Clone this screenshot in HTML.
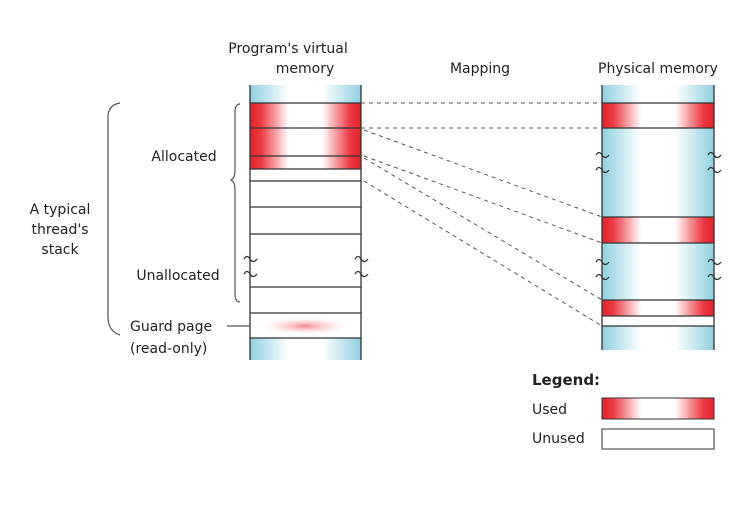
<!DOCTYPE html>
<html><head><meta charset="utf-8"><style>
body{margin:0;background:#fff;}
svg text{font-family:"DejaVu Sans","Liberation Sans",sans-serif;font-size:14px;fill:#222;}
</style></head><body>
<svg width="750" height="500" xmlns="http://www.w3.org/2000/svg">
<defs>
<linearGradient id="cy" x1="0" x2="1"><stop offset="0" stop-color="#8fd0e0"/><stop offset="0.35" stop-color="#fff"/><stop offset="0.65" stop-color="#fff"/><stop offset="1" stop-color="#8fd0e0"/></linearGradient>
<linearGradient id="rd" x1="0" x2="1"><stop offset="0" stop-color="#e8202a"/><stop offset="0.1" stop-color="#ec3a42"/><stop offset="0.35" stop-color="#fff"/><stop offset="0.65" stop-color="#fff"/><stop offset="0.9" stop-color="#ec3a42"/><stop offset="1" stop-color="#e8202a"/></linearGradient>
<radialGradient id="gp"><stop offset="0" stop-color="#f48a90"/><stop offset="1" stop-color="#fff" stop-opacity="0"/></radialGradient>
</defs>
<text x="288" y="53" text-anchor="middle">Program's virtual</text>
<text x="305" y="73" text-anchor="middle">memory</text>
<text x="480" y="73" text-anchor="middle">Mapping</text>
<text x="658" y="73" text-anchor="middle">Physical memory</text>
<!-- virtual -->
<rect x="250" y="85" width="111" height="275" fill="url(#cy)"/>
<rect x="250" y="103" width="111" height="66" fill="url(#rd)"/>
<rect x="250" y="169" width="111" height="169" fill="#fff"/>
<ellipse cx="305" cy="326" rx="50" ry="10" fill="url(#gp)"/>
<g stroke="#333" stroke-width="1.3">
<line x1="250" y1="85" x2="250" y2="360"/><line x1="361" y1="85" x2="361" y2="360"/>
<line x1="250" y1="103" x2="361" y2="103"/><line x1="250" y1="128" x2="361" y2="128"/>
<line x1="250" y1="156" x2="361" y2="156"/><line x1="250" y1="169" x2="361" y2="169"/>
<line x1="250" y1="181" x2="361" y2="181"/><line x1="250" y1="207" x2="361" y2="207"/>
<line x1="250" y1="234" x2="361" y2="234"/><line x1="250" y1="287" x2="361" y2="287"/>
<line x1="250" y1="313" x2="361" y2="313"/><line x1="250" y1="338" x2="361" y2="338"/>
</g>
<!-- physical -->
<rect x="602" y="85" width="112" height="265" fill="url(#cy)"/>
<rect x="602" y="103" width="112" height="25" fill="url(#rd)"/>
<rect x="602" y="217" width="112" height="26" fill="url(#rd)"/>
<rect x="602" y="300" width="112" height="16" fill="url(#rd)"/>
<rect x="602" y="316" width="112" height="10" fill="#fff"/>
<g stroke="#333" stroke-width="1.3">
<line x1="602" y1="85" x2="602" y2="350"/><line x1="714" y1="85" x2="714" y2="350"/>
<line x1="602" y1="103" x2="714" y2="103"/><line x1="602" y1="128" x2="714" y2="128"/>
<line x1="602" y1="217" x2="714" y2="217"/><line x1="602" y1="243" x2="714" y2="243"/>
<line x1="602" y1="300" x2="714" y2="300"/><line x1="602" y1="316" x2="714" y2="316"/>
<line x1="602" y1="326" x2="714" y2="326"/>
</g>
<!-- squiggles -->
<g fill="none" stroke="#333" stroke-width="1.3">
<path d="M244 259 q3 -5 6 0 t7 0 M244 274 q3 -5 6 0 t7 0"/>
<path d="M355 259 q3 -5 6 0 t7 0 M355 274 q3 -5 6 0 t7 0"/>
<path d="M596 155 q3 -5 6 0 t7 0 M596 170 q3 -5 6 0 t7 0 M708 155 q3 -5 6 0 t7 0 M708 170 q3 -5 6 0 t7 0"/>
<path d="M596 262 q3 -5 6 0 t7 0 M596 277 q3 -5 6 0 t7 0 M708 262 q3 -5 6 0 t7 0 M708 277 q3 -5 6 0 t7 0"/>
</g>
<!-- mapping -->
<g stroke="#555" stroke-width="1" stroke-dasharray="4,4" fill="none">
<line x1="361" y1="103" x2="602" y2="103"/><line x1="361" y1="128" x2="602" y2="128"/>
<line x1="364" y1="130" x2="602" y2="217"/><line x1="364" y1="156" x2="602" y2="243"/>
<line x1="364" y1="158" x2="602" y2="300"/><line x1="364" y1="181" x2="602" y2="326"/>
</g>
<!-- braces -->
<g fill="none" stroke="#555" stroke-width="1.2">
<path d="M240 104 q-5 0 -5 8 v58 q0 8 -4 10 q4 2 4 10 v104 q0 8 5 8"/>
<path d="M120 103 q-12 2 -12 14 v200 q0 14 12 18"/>
<line x1="227" y1="326" x2="250" y2="326"/>
</g>
<text x="184" y="161" text-anchor="middle">Allocated</text>
<text x="178" y="280" text-anchor="middle">Unallocated</text>
<text x="60" y="214" text-anchor="middle">A typical</text>
<text x="60" y="234" text-anchor="middle">thread's</text>
<text x="60" y="254" text-anchor="middle">stack</text>
<text x="130" y="331">Guard page</text>
<text x="130" y="353">(read-only)</text>
<!-- legend -->
<text x="532" y="385" style="font-weight:bold;font-size:15px">Legend:</text>
<text x="532" y="414">Used</text>
<text x="532" y="443">Unused</text>
<rect x="602" y="398" width="112" height="21" fill="url(#rd)" stroke="#333"/>
<rect x="602" y="429" width="112" height="20" fill="#fff" stroke="#333"/>
</svg>
</body></html>
